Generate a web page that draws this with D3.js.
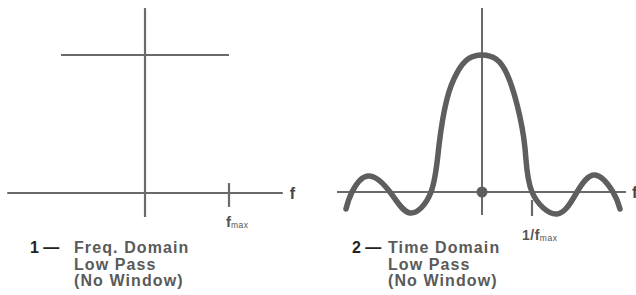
<!DOCTYPE html>
<html>
<head>
<meta charset="utf-8">
<script src="https://cdn.jsdelivr.net/npm/d3@7"></script>
<style>
  html, body { margin: 0; padding: 0; background: #fff; overflow: hidden; }
  svg { display: block; }
  text { font-family: "Liberation Sans", Arial, Helvetica, sans-serif; font-weight: bold; }
</style>
</head>
<body>
<svg id="chart" width="636" height="295"></svg>
<script>
// frequency domain: ideal low pass, flat from -fmax to +fmax (units of fmax)
const passBand = [-1, 1];
const passLevel = 1;

// time domain: response (t in units of 1/fmax, amplitude normalized to peak)
const timeT =   [-2.72, -2.6, -2.28, -1.84, -1.44, -1.02, -0.86, -0.7, -0.5, -0.28, 0, 0.28, 0.5, 0.7, 0.86, 1.0, 1.5, 1.9, 2.26, 2.62, 2.76];
const timeAmp = [-0.124, 0, 0.117, 0, -0.153, 0, 0.34, 0.68, 0.87, 0.97, 1.0, 0.97, 0.86, 0.64, 0.32, 0, -0.16, 0, 0.124, 0, -0.124];

// axis extents in data units
const freqAxisX = [-1.64, 1.64];
const freqAxisY = [-0.174, 1.34];
const timeAxisX = [-2.9, 2.88];
const timeAxisY = [-0.168, 1.343];

// tick marks
const freqTick = { at: 1, from: 0.072, to: -0.101 };
const timeTick = { at: 1, from: -0.058, to: -0.175 };

// captions
const captions = [
  { num: '1 —', lines: ['Freq. Domain', 'Low Pass', '(No Window)'] },
  { num: '2 —', lines: ['Time Domain', 'Low Pass', '(No Window)'] }
];

const svg = d3.select('#chart');
const axisColor = '#6a6a6a';
const curveColor = '#5e5e5e';
const textGray = '#5a5a5a';

// ---------- panel 1: frequency domain ----------
const xF = d3.scaleLinear().domain([-1, 1]).range([61, 229]);
const yF = d3.scaleLinear().domain([0, 1]).range([193, 55]);

const p1 = svg.append('g');

p1.append('line')
  .attr('x1', xF(freqAxisX[0])).attr('x2', xF(freqAxisX[1]))
  .attr('y1', yF(0)).attr('y2', yF(0))
  .attr('stroke', axisColor).attr('stroke-width', 2.2);

p1.append('line')
  .attr('x1', xF(0)).attr('x2', xF(0))
  .attr('y1', yF(freqAxisY[0])).attr('y2', yF(freqAxisY[1]))
  .attr('stroke', axisColor).attr('stroke-width', 2.2);

// pass band level
p1.append('line')
  .attr('x1', xF(passBand[0])).attr('x2', xF(passBand[1]))
  .attr('y1', yF(passLevel)).attr('y2', yF(passLevel))
  .attr('stroke', axisColor).attr('stroke-width', 2.2);

p1.append('line')
  .attr('x1', xF(freqTick.at)).attr('x2', xF(freqTick.at))
  .attr('y1', yF(freqTick.from)).attr('y2', yF(freqTick.to))
  .attr('stroke', axisColor).attr('stroke-width', 2.2);

p1.append('text')
  .attr('x', xF(freqAxisX[1]) + 7).attr('y', yF(0) + 6)
  .attr('font-size', 16).attr('fill', '#444')
  .text('f');

const fmaxLabel = p1.append('text')
  .attr('x', xF(freqTick.at) - 3).attr('y', 227)
  .attr('font-size', 15).attr('fill', '#555');
fmaxLabel.append('tspan').text('f');
fmaxLabel.append('tspan').attr('font-size', 8.5).attr('font-weight', 'normal').attr('letter-spacing', 0.5).attr('dy', 1).text('max');

// ---------- panel 2: time domain ----------
const xT = d3.scaleLinear().domain([-1, 1]).range([432, 532]);
const yT = d3.scaleLinear().domain([0, 1]).range([192, 55]);

const p2 = svg.append('g');

p2.append('line')
  .attr('x1', xT(timeAxisX[0])).attr('x2', xT(timeAxisX[1]))
  .attr('y1', yT(0)).attr('y2', yT(0))
  .attr('stroke', axisColor).attr('stroke-width', 2);

p2.append('line')
  .attr('x1', xT(0)).attr('x2', xT(0))
  .attr('y1', yT(timeAxisY[0])).attr('y2', yT(timeAxisY[1]))
  .attr('stroke', axisColor).attr('stroke-width', 2);

p2.append('line')
  .attr('x1', xT(timeTick.at)).attr('x2', xT(timeTick.at))
  .attr('y1', yT(timeTick.from)).attr('y2', yT(timeTick.to))
  .attr('stroke', axisColor).attr('stroke-width', 2.2);

const timeData = timeT.map((t, i) => ({ t: t, a: timeAmp[i] }));

p2.append('path')
  .datum(timeData)
  .attr('fill', 'none')
  .attr('stroke', curveColor)
  .attr('stroke-width', 5.5)
  .attr('stroke-linecap', 'round')
  .attr('d', d3.line()
    .x(d => xT(d.t))
    .y(d => yT(d.a))
    .curve(d3.curveNatural));

p2.append('circle')
  .attr('cx', xT(0)).attr('cy', yT(0)).attr('r', 5.5)
  .attr('fill', curveColor);

p2.append('text')
  .attr('x', xT(timeAxisX[1]) + 6).attr('y', yT(0) + 6)
  .attr('font-size', 16).attr('fill', '#444')
  .text('f');

const invLabel = p2.append('text')
  .attr('x', xT(timeTick.at) - 10).attr('y', 240)
  .attr('font-size', 14).attr('letter-spacing', 0.5).attr('fill', '#555');
invLabel.append('tspan').text('1/f');
invLabel.append('tspan').attr('font-size', 8.5).attr('font-weight', 'normal').attr('dy', 1).text('max');

// ---------- captions ----------
const capX = [[30, 74], [352, 388]];
captions.forEach((c, i) => {
  const g = svg.append('g');
  g.append('text')
    .attr('x', capX[i][0]).attr('y', 253)
    .attr('font-size', 16).attr('fill', '#222')
    .text(c.num);
  c.lines.forEach((l, j) => {
    g.append('text')
      .attr('x', capX[i][1]).attr('y', 253 + j * 16.5)
      .attr('font-size', 16).attr('letter-spacing', 1.1)
      .attr('fill', textGray)
      .text(l);
  });
});
</script>
</body>
</html>
